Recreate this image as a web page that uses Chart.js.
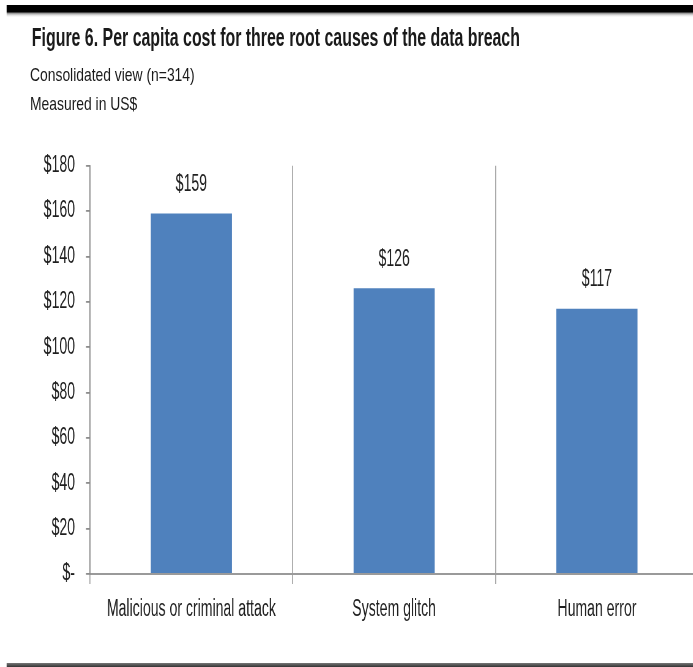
<!DOCTYPE html>
<html>
<head>
<meta charset="utf-8">
<script src="https://cdn.jsdelivr.net/npm/chart.js@4"></script>
<style>
  html, body {
    margin: 0;
    padding: 0;
    background: #fff;
    overflow: hidden;
    width: 693px;
    height: 667px;
  }
  /* the whole figure is laid out wide and squeezed horizontally */
  #figure {
    position: absolute;
    left: 0;
    top: 0;
    width: 1133px;
    height: 667px;
    transform: scaleX(0.612);
    transform-origin: 0 0;
  }
  .rule-top {
    position: absolute;
    left: 11px;
    top: 5px;
    width: 1122px;
    height: 12px;
    background: linear-gradient(#000 0px, #000 7px, #888 8px, #ddd 10px, #fff 12px);
  }
  .rule-bottom {
    position: absolute;
    left: 11px;
    top: 663px;
    width: 1122px;
    height: 4px;
    background: linear-gradient(#777, #333);
  }
  .title {
    position: absolute;
    left: 52px;
    top: 24px;
    font: bold 26px "Liberation Sans", Arial, sans-serif;
    line-height: 1;
    color: #1a1a1a;
    white-space: nowrap;
  }
  /* subtitles are set a little wider than the rest */
  .sub {
    position: absolute;
    left: 49px;
    font: 18.5px "Liberation Sans", Arial, sans-serif;
    line-height: 1;
    color: #1a1a1a;
    white-space: nowrap;
    transform: scaleX(1.2255);
    transform-origin: 0 0;
  }
  #chartBox {
    position: absolute;
    left: 0;
    top: 134px;
  }
</style>
</head>
<body>
<div id="figure">
  <div class="rule-top"></div>
  <div class="title">Figure 6. Per capita cost for three root causes of the data breach</div>
  <div class="sub" style="top:66px">Consolidated view (n=314)</div>
  <div class="sub" style="top:95px">Measured in US$</div>
  <div id="chartBox">
    <canvas id="costChart" width="1141" height="500" style="width:1141px;height:500px"></canvas>
  </div>
  <div class="rule-bottom"></div>
</div>

<script>
  // Root causes and their per capita cost (US$)
  const causes = ['Malicious or criminal attack', 'System glitch', 'Human error'];
  const perCapitaCost = [159, 126, 117];

  // Value axis range
  const yMin = 0;
  const yMax = 180;
  const yStep = 20;

  const labelFont = '"Liberation Sans", Arial, sans-serif';
  const textColor = '#1f1f1f';

  // Writes "$159" etc. above each bar
  const valueLabels = {
    id: 'valueLabels',
    afterDatasetsDraw(chart) {
      const ctx = chart.ctx;
      const meta = chart.getDatasetMeta(0);
      ctx.save();
      ctx.font = '23px ' + labelFont;
      ctx.fillStyle = textColor;
      ctx.textAlign = 'center';
      ctx.textBaseline = 'middle';
      meta.data.forEach((bar, i) => {
        const v = chart.data.datasets[0].data[i];
        ctx.fillText('$' + v, bar.x, bar.y - 29);
      });
      ctx.restore();
    }
  };

  const ctx = document.getElementById('costChart').getContext('2d');

  const costChart = new Chart(ctx, {
    type: 'bar',
    data: {
      labels: causes,
      datasets: [{
        data: perCapitaCost,
        backgroundColor: '#4f81bd',
        borderWidth: 0,
        barPercentage: 0.8,
        categoryPercentage: 0.5
      }]
    },
    options: {
      responsive: false,
      animation: false,
      events: [],
      layout: {
        padding: { top: 0, right: 0, bottom: 0, left: 0 }
      },
      plugins: {
        legend: { display: false },
        tooltip: { enabled: false }
      },
      scales: {
        x: {
          afterFit(scale) { scale.height = 60; },
          grid: {
            offset: true,
            drawOnChartArea: true,
            drawTicks: true,
            tickLength: 10,
            color: '#a8a8a8',
            lineWidth: 1.8
          },
          border: { color: '#9a9a9a', width: 2 },
          ticks: {
            padding: 12,
            color: textColor,
            font: { family: labelFont, size: 23 },
            maxRotation: 0,
            autoSkip: false
          }
        },
        y: {
          min: yMin,
          max: yMax,
          afterFit(scale) { scale.width = 147; },
          grid: {
            drawOnChartArea: false,
            drawTicks: true,
            tickLength: 6.5,
            color: '#8c8c8c',
            lineWidth: 1.8
          },
          border: { color: '#8c8c8c', width: 1.8 },
          ticks: {
            stepSize: yStep,
            padding: 18,
            color: textColor,
            font: { family: labelFont, size: 23 },
            callback: v => v === 0 ? '$-' : '$' + v
          }
        }
      }
    },
    plugins: [valueLabels]
  });
</script>
</body>
</html>
